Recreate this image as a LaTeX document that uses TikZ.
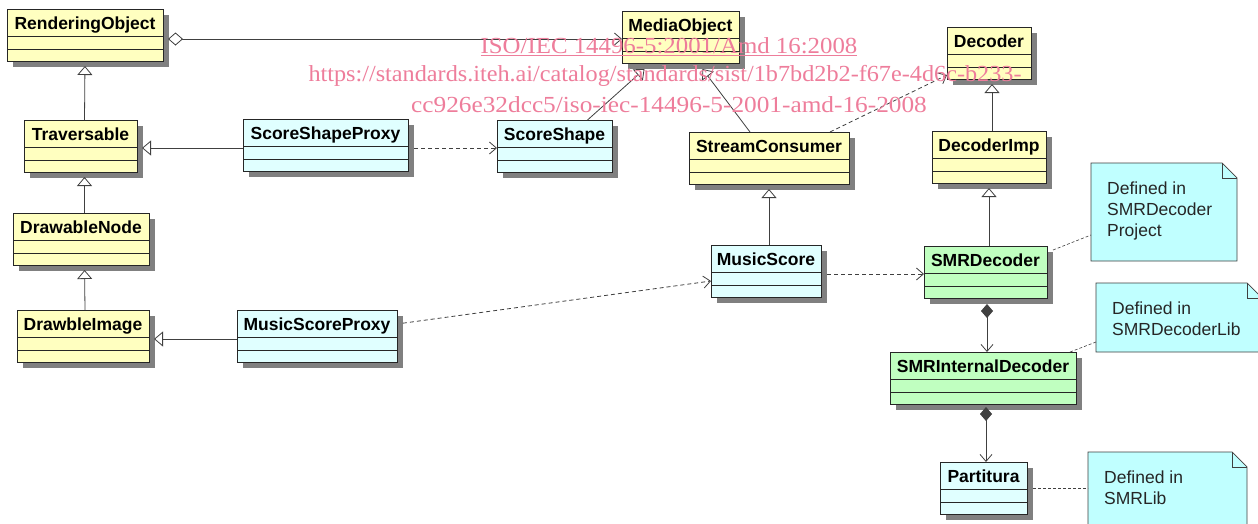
\documentclass[tikz,border=0pt]{standalone}
\usepackage{fontspec}
\setmainfont{Liberation Sans}
\newfontfamily\wmfont{Liberation Serif}
\usepackage{tikz}
\usetikzlibrary{arrows.meta,calc}
\definecolor{classyellow}{RGB}{255,255,192}
\definecolor{classcyan}{RGB}{224,255,255}
\definecolor{classgreen}{RGB}{192,255,192}
\definecolor{notecyan}{RGB}{192,255,255}
\definecolor{shadowgray}{RGB}{128,128,128}
\definecolor{linegray}{RGB}{64,64,64}
\definecolor{wmpink}{RGB}{238,125,155}
\tikzstyle{classbox}=[rectangle, draw=black!85, line width=0.9pt, minimum height=52pt, inner sep=0pt, outer sep=0pt]
\tikzstyle{yellowclass}=[fill=classyellow]
\tikzstyle{cyanclass}=[fill=classcyan]
\tikzstyle{greenclass}=[fill=classgreen]
\tikzstyle{classshadow}=[fill=shadowgray]
\tikzstyle{classline}=[draw=black!85, line width=0.9pt]
\tikzstyle{classname}=[anchor=base, inner sep=0pt, font=\fontsize{17.5}{21}\selectfont\bfseries]
\tikzstyle{notebox}=[rectangle, inner sep=0pt, outer sep=0pt]
\tikzstyle{noteline}=[draw=black!75, line width=0.7pt]
\tikzstyle{notetext}=[anchor=north west, inner sep=0pt, align=left, text=black!85, font=\fontsize{17.5}{20.7}\selectfont]
\tikzstyle{umlline}=[draw=linegray, line width=0.8pt]
\tikzstyle{generalize}=[umlline, -{Triangle[open, length=9pt, width=15pt, fill=white]}]
\tikzstyle{navigate}=[umlline, -{Straight Barb[length=7pt, width=12pt]}]
\tikzstyle{depend}=[navigate, dash pattern=on 4pt off 3pt]
\tikzstyle{aggregate}=[umlline, {Diamond[open, length=15pt, width=13pt, fill=white]}-{Straight Barb[length=7pt, width=12pt]}]
\tikzstyle{compose}=[umlline, {Diamond[length=14pt, width=12pt]}-{Straight Barb[length=7pt, width=12pt]}]
\tikzstyle{notelink}=[draw=linegray, line width=0.6pt, dash pattern=on 3pt off 2pt]
\tikzstyle{watermark}=[anchor=base, inner sep=0pt, text=wmpink, font=\wmfont\fontsize{23}{23}\selectfont]
\newcommand{\umlClass}[5]{
	\fill[classshadow] ($#3+(6,6)$) rectangle ++(#4,52);
	\node[classbox, #1, minimum width=#4pt, anchor=north west] (#2) at #3 {};
	\draw[classline] ($(#2.north west)+(0,27)$) -- ++(#4,0);
	\draw[classline] ($(#2.north west)+(0,40)$) -- ++(#4,0);
	\node[classname] at ($(#2.north)+(0,20)$) {#5};
}
\newcommand{\umlNote}[5]{
	\node[notebox, minimum width=#3pt, minimum height=#4pt, anchor=north west] (#1) at #2 {};
	\draw[noteline, fill=notecyan] (#1.north west) -- ($(#1.north east)+(-15,0)$) -- ($(#1.north east)+(0,15)$) -- (#1.south east) -- (#1.south west) -- cycle;
	\draw[noteline] ($(#1.north east)+(-15,0)$) |- ($(#1.north east)+(0,15)$);
	\node[notetext] at ($(#1.north west)+(16,19)$) {#5};
}
\begin{document}
\begin{tikzpicture}[x=1pt, y=-1pt]
	\clip (0,0) rectangle (1258,523);
	\fill[white] (0,0) rectangle (1258,523);
	% classes
	\umlClass{yellowclass}{RenderingObject}{(7,9)}{156}{RenderingObject}
	\umlClass{yellowclass}{Traversable}{(24,120)}{113}{Traversable}
	\umlClass{yellowclass}{DrawableNode}{(13,213)}{136}{DrawableNode}
	\umlClass{yellowclass}{DrawbleImage}{(17,310)}{132}{DrawbleImage}
	\umlClass{cyanclass}{ScoreShapeProxy}{(243,119)}{165}{ScoreShapeProxy}
	\umlClass{cyanclass}{MusicScoreProxy}{(237,310)}{160}{MusicScoreProxy}
	\umlClass{yellowclass}{MediaObject}{(622,11)}{117}{MediaObject}
	\umlClass{cyanclass}{ScoreShape}{(497,120)}{115}{ScoreShape}
	\umlClass{yellowclass}{StreamConsumer}{(689,132)}{160}{StreamConsumer}
	\umlClass{cyanclass}{MusicScore}{(711,245)}{110}{MusicScore}
	\umlClass{yellowclass}{Decoder}{(947,27)}{84}{Decoder}
	\umlClass{yellowclass}{DecoderImp}{(932,131)}{114}{DecoderImp}
	\umlClass{greenclass}{SMRDecoder}{(924,246)}{123}{SMRDecoder}
	\umlClass{greenclass}{SMRInternalDecoder}{(890,352)}{186}{SMRInternalDecoder}
	\umlClass{cyanclass}{Partitura}{(940,462)}{87}{Partitura}
	% notes
	\umlNote{noteA}{(1091,163)}{146}{98}{Defined in\\SMRDecoder\\Project}
	\umlNote{noteB}{(1096,283)}{166}{69}{Defined in\\SMRDecoderLib}
	\umlNote{noteC}{(1088,452)}{159}{80}{Defined in\\SMRLib}
	% generalizations
	\draw[generalize, shorten >=5pt] ([xshift=4pt]Traversable.north) -- (RenderingObject.south);
	\draw[generalize, shorten >=5pt] ([xshift=3.5pt]DrawableNode.north) -- ([xshift=4pt]Traversable.south);
	\draw[generalize, shorten >=5pt] ([xshift=2pt]DrawbleImage.north) -- ([xshift=3.5pt]DrawableNode.south);
	\draw[generalize, shorten >=5pt] ([yshift=-3pt]ScoreShapeProxy.west) -- ([yshift=-2pt]Traversable.east);
	\draw[generalize, shorten >=5pt] ([yshift=-3pt]MusicScoreProxy.west) -- ([yshift=-3pt]DrawbleImage.east);
	\draw[generalize] ([xshift=33pt]ScoreShape.north) -- ([xshift=-36pt,yshift=-6pt]MediaObject.south);
	\draw[generalize] ([xshift=-19pt]StreamConsumer.north) -- ([xshift=22pt,yshift=-6pt]MediaObject.south);
	\draw[generalize, shorten >=5pt] ([xshift=3pt]MusicScore.north) -- (StreamConsumer.south);
	\draw[generalize, shorten >=5pt] ([xshift=3pt]DecoderImp.north) -- ([xshift=3pt]Decoder.south);
	\draw[generalize, shorten >=5pt] ([xshift=3.5pt]SMRDecoder.north) -- (DecoderImp.south);
	% associations
	\draw[aggregate, shorten <=5pt] ([yshift=-4pt]RenderingObject.east) -- ([yshift=-2pt]MediaObject.west);
	\draw[compose, shorten <=6pt] ([xshift=1.5pt]SMRDecoder.south) -- ([xshift=4pt]SMRInternalDecoder.north);
	\draw[compose, shorten <=3pt] ([xshift=3pt]SMRInternalDecoder.south) -- ([xshift=2.5pt]Partitura.north);
	% dependencies
	\draw[depend, shorten <=6pt] ([yshift=-3pt]ScoreShapeProxy.east) -- ([yshift=-2pt]ScoreShape.west);
	\draw[depend, shorten <=6pt] ([yshift=12pt]MusicScoreProxy.east) -- ([yshift=-10pt]MusicScore.west);
	\draw[depend, shorten <=6pt] ([yshift=-3pt]MusicScore.east) -- ([yshift=-2pt]SMRDecoder.west);
	\draw[depend] ([xshift=61pt]StreamConsumer.north) -- ([yshift=4pt]Decoder.south west);
	% note links
	\draw[notelink] ([xshift=6pt,yshift=-4pt]SMRDecoder.north east) -- ([yshift=-23pt]noteA.west);
	\draw[notelink] ([xshift=-6pt]SMRInternalDecoder.north east) -- ([yshift=-24.5pt]noteB.west);
	\draw[notelink, shorten <=6pt] (Partitura.east) -- ([yshift=4pt]noteC.west);
	% watermark
	\node[watermark] (wmA) at (669,53) {\scalebox{1.08}[1]{\underline{ISO/IEC 14496-5:2001/Amd 16:2008}}};
	\node[watermark] (wmB) at (665,81) {\scalebox{1.053}[1]{https://standards.iteh.ai/catalog/standards/sist/1b7bd2b2-f67e-4d6c-b233-}};
	\node[watermark] (wmC) at (669,112) {\scalebox{1.10}[1]{cc926e32dcc5/iso-iec-14496-5-2001-amd-16-2008}};
\end{tikzpicture}
\end{document}
